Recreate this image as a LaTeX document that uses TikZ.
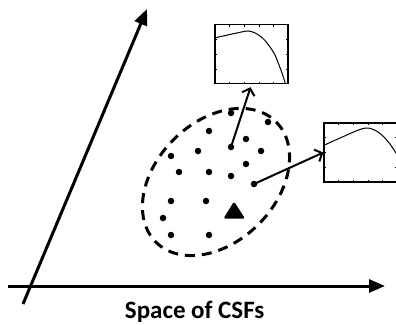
\documentclass[tikz,border=0pt]{standalone}
\usepackage{fontspec}
\setmainfont{Carlito}
\usetikzlibrary{arrows.meta,calc}
\begin{document}
\begin{tikzpicture}[x=1pt,y=-1pt,
  axis/.style={line width=3pt,-{Triangle[length=16pt,width=13pt]}},
  dot/.style={circle,fill=black,inner sep=0pt,minimum size=6.5pt},
  link/.style={line width=2pt,-{Straight Barb[length=6pt,width=13pt,line width=2pt]}},
  plotbox/.style={draw,line width=1.3pt,inner sep=0pt,rectangle,minimum width=73pt,minimum height=59pt},
  curve/.style={line width=1pt},
  tick/.style={line width=0.8pt},
  cluster/.style={line width=3pt,dash pattern=on 10pt off 7pt},
  label/.style={font=\fontsize{25}{29}\selectfont\bfseries,inner sep=0pt,anchor=base}
]
\useasboundingbox (0,0) rectangle (396,324);
\clip (0,0) rectangle (396,324);

% axes
\coordinate (xs) at (8,286);
\coordinate (xe) at (385,286);
\coordinate (ys) at (23,304);
\coordinate (ye) at (147,9);
\draw[axis] (xs) -- (xe);
\draw[axis] (ys) -- (ye);
\node[label] (lab) at (194.7,318.3) {Space of CSFs};

% cluster ellipse
\begin{scope}[shift={(216,182)},rotate=45]
  \draw[cluster] (0,0) ellipse [x radius=85, y radius=60];
\end{scope}

% dots
\node[dot] (d1) at (231,113) {};
\node[dot] (d2) at (268,122) {};
\node[dot] (d3) at (209,131) {};
\node[dot] (d4) at (246,139) {};
\node[dot] (d5) at (231,147) {};
\node[dot] (d6) at (198,151) {};
\node[dot] (d7) at (261,151) {};
\node[dot] (d8) at (171,156) {};
\node[dot] (d9) at (246,164) {};
\node[dot] (d10) at (179,172) {};
\node[dot] (d11) at (209,172) {};
\node[dot] (d12) at (231,176) {};
\node[dot] (d13) at (254,184) {};
\node[dot] (d14) at (171,201) {};
\node[dot] (d15) at (206,201) {};
\node[dot] (d16) at (163,218) {};
\node[dot] (d17) at (171,235) {};
\node[dot] (d18) at (209,235) {};

% triangle
\fill[rounded corners=1.5pt] (234,201.5) -- (245,218.5) -- (223.5,218.5) -- cycle;

% plot boxes
\node[plotbox] (topbox) at (251.5,54.2) {};
\node[plotbox] (rightbox) at (360.5,152.5) {};

% ticks
\foreach \b in {topbox,rightbox}{
  \foreach \i in {1,2,3,4}{
    \draw[tick] ($(\b.north west)!\i/5!(\b.north east)$) -- ++(0,2.5);
    \draw[tick] ($(\b.south west)!\i/5!(\b.south east)$) -- ++(0,-2.5);
  }
  \foreach \i in {1,2,3}{
    \draw[tick] ($(\b.north west)!\i/4!(\b.south west)$) -- ++(2.5,0);
    \draw[tick] ($(\b.north east)!\i/4!(\b.south east)$) -- ++(-2.5,0);
  }
}

% curves
\draw[curve] plot[smooth,tension=0.5] coordinates {(215.5,37.7) (240,32.3) (248,31) (254,32.5) (260,36) (265,40.5) (270,47) (275,55) (279,65) (282,73) (285.5,84)};
\draw[curve] plot[smooth,tension=0.5] coordinates {(324.5,145) (356,131) (366,128) (372,129) (378,132) (384,137) (390,144) (396,153) (399,158)};

% links
\draw[link,shorten >=3pt] (d5.center) -- (topbox.south);
\draw[link] (d13.center) -- (rightbox.west);
\end{tikzpicture}
\end{document}
